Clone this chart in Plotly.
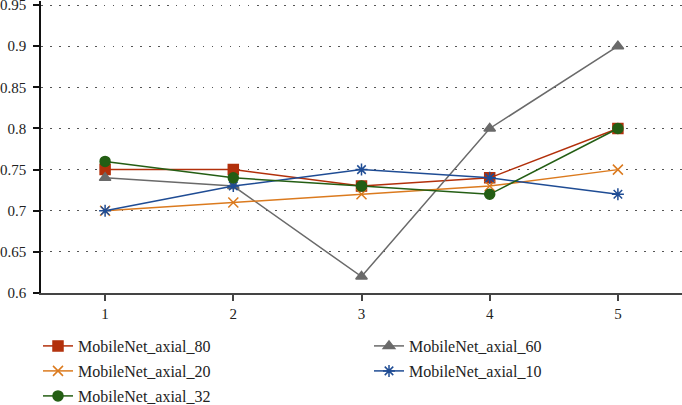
import plotly.graph_objects as go

x = [1, 2, 3, 4, 5]
series_names = ["MobileNet_axial_80", "MobileNet_axial_60", "MobileNet_axial_20",
                "MobileNet_axial_10", "MobileNet_axial_32"]
v80 = [0.75, 0.75, 0.73, 0.74, 0.80]
v60 = [0.74, 0.73, 0.62, 0.80, 0.90]
v20 = [0.70, 0.71, 0.72, 0.73, 0.75]
v10 = [0.70, 0.73, 0.75, 0.74, 0.72]
v32 = [0.76, 0.74, 0.73, 0.72, 0.80]
y_ticks = [0.6, 0.65, 0.7, 0.75, 0.8, 0.85, 0.9, 0.95]
y_tick_labels = ["0.6", "0.65", "0.7", "0.75", "0.8", "0.85", "0.9", "0.95"]

values = [v80, v60, v20, v10, v32]
colors = ["#B2300B", "#6A6A6A", "#DB7A1E", "#1F4C94", "#245E14"]
symbols = ["square", "triangle-up", "x-thin-open", "asterisk-open", "circle"]
legend_ids = ["legend", "legend2", "legend3", "legend4", "legend5"]
# legend placement (left px, centre y px) for each entry
legend_pos = [(38, 346), (369, 346), (38, 371), (369, 371), (38, 396)]

FONT = "Liberation Serif, Times New Roman, DejaVu Serif, serif"

fig = go.Figure()
for name, vals, c, s, lg in zip(series_names, values, colors, symbols, legend_ids):
    fig.add_trace(go.Scatter(
        x=x, y=vals, name=name, mode="lines+markers", legend=lg,
        line=dict(color=c, width=1.5),
        marker=dict(symbol=s, size=10, color=c, line=dict(color=c, width=1.5)),
    ))

legends = {}
for lg, (lx, ly) in zip(legend_ids, legend_pos):
    legends[lg] = dict(
        xref="container", yref="container",
        x=lx / 682, y=1 - ly / 405, xanchor="left", yanchor="middle",
        font=dict(family=FONT, size=16, color="#222"),
        bgcolor="rgba(0,0,0,0)",
    )

fig.update_layout(
    width=682, height=405,
    margin=dict(l=41, r=0, t=1, b=112, autoexpand=False),
    paper_bgcolor="white", plot_bgcolor="white",
    font=dict(family=FONT, size=15, color="#222"),
    showlegend=True,
    **legends,
    xaxis=dict(
        range=[0.5, 5.5], tickvals=x, ticktext=[str(i) for i in x],
        showgrid=False, zeroline=False,
        showline=True, linecolor="#444", linewidth=1.5,
        ticks="outside", ticklen=6, tickcolor="#444", tickwidth=1.5,
        tickfont=dict(family=FONT, size=15, color="#222"),
    ),
    yaxis=dict(
        range=[0.6, 0.955], tickvals=y_ticks, ticktext=y_tick_labels,
        showgrid=True, gridcolor="#555", griddash="1.5px,7.5px", gridwidth=1.2,
        zeroline=False,
        showline=True, linecolor="#111", linewidth=1.5,
        ticks="outside", ticklen=6, tickcolor="#111", tickwidth=1.5,
        ticklabelstandoff=4, ticklabeloverflow="allow",
        tickfont=dict(family=FONT, size=15, color="#222"),
    ),
)

fig.write_html("out.html", config={"displayModeBar": False},
               post_script="document.body.style.margin='0';")
